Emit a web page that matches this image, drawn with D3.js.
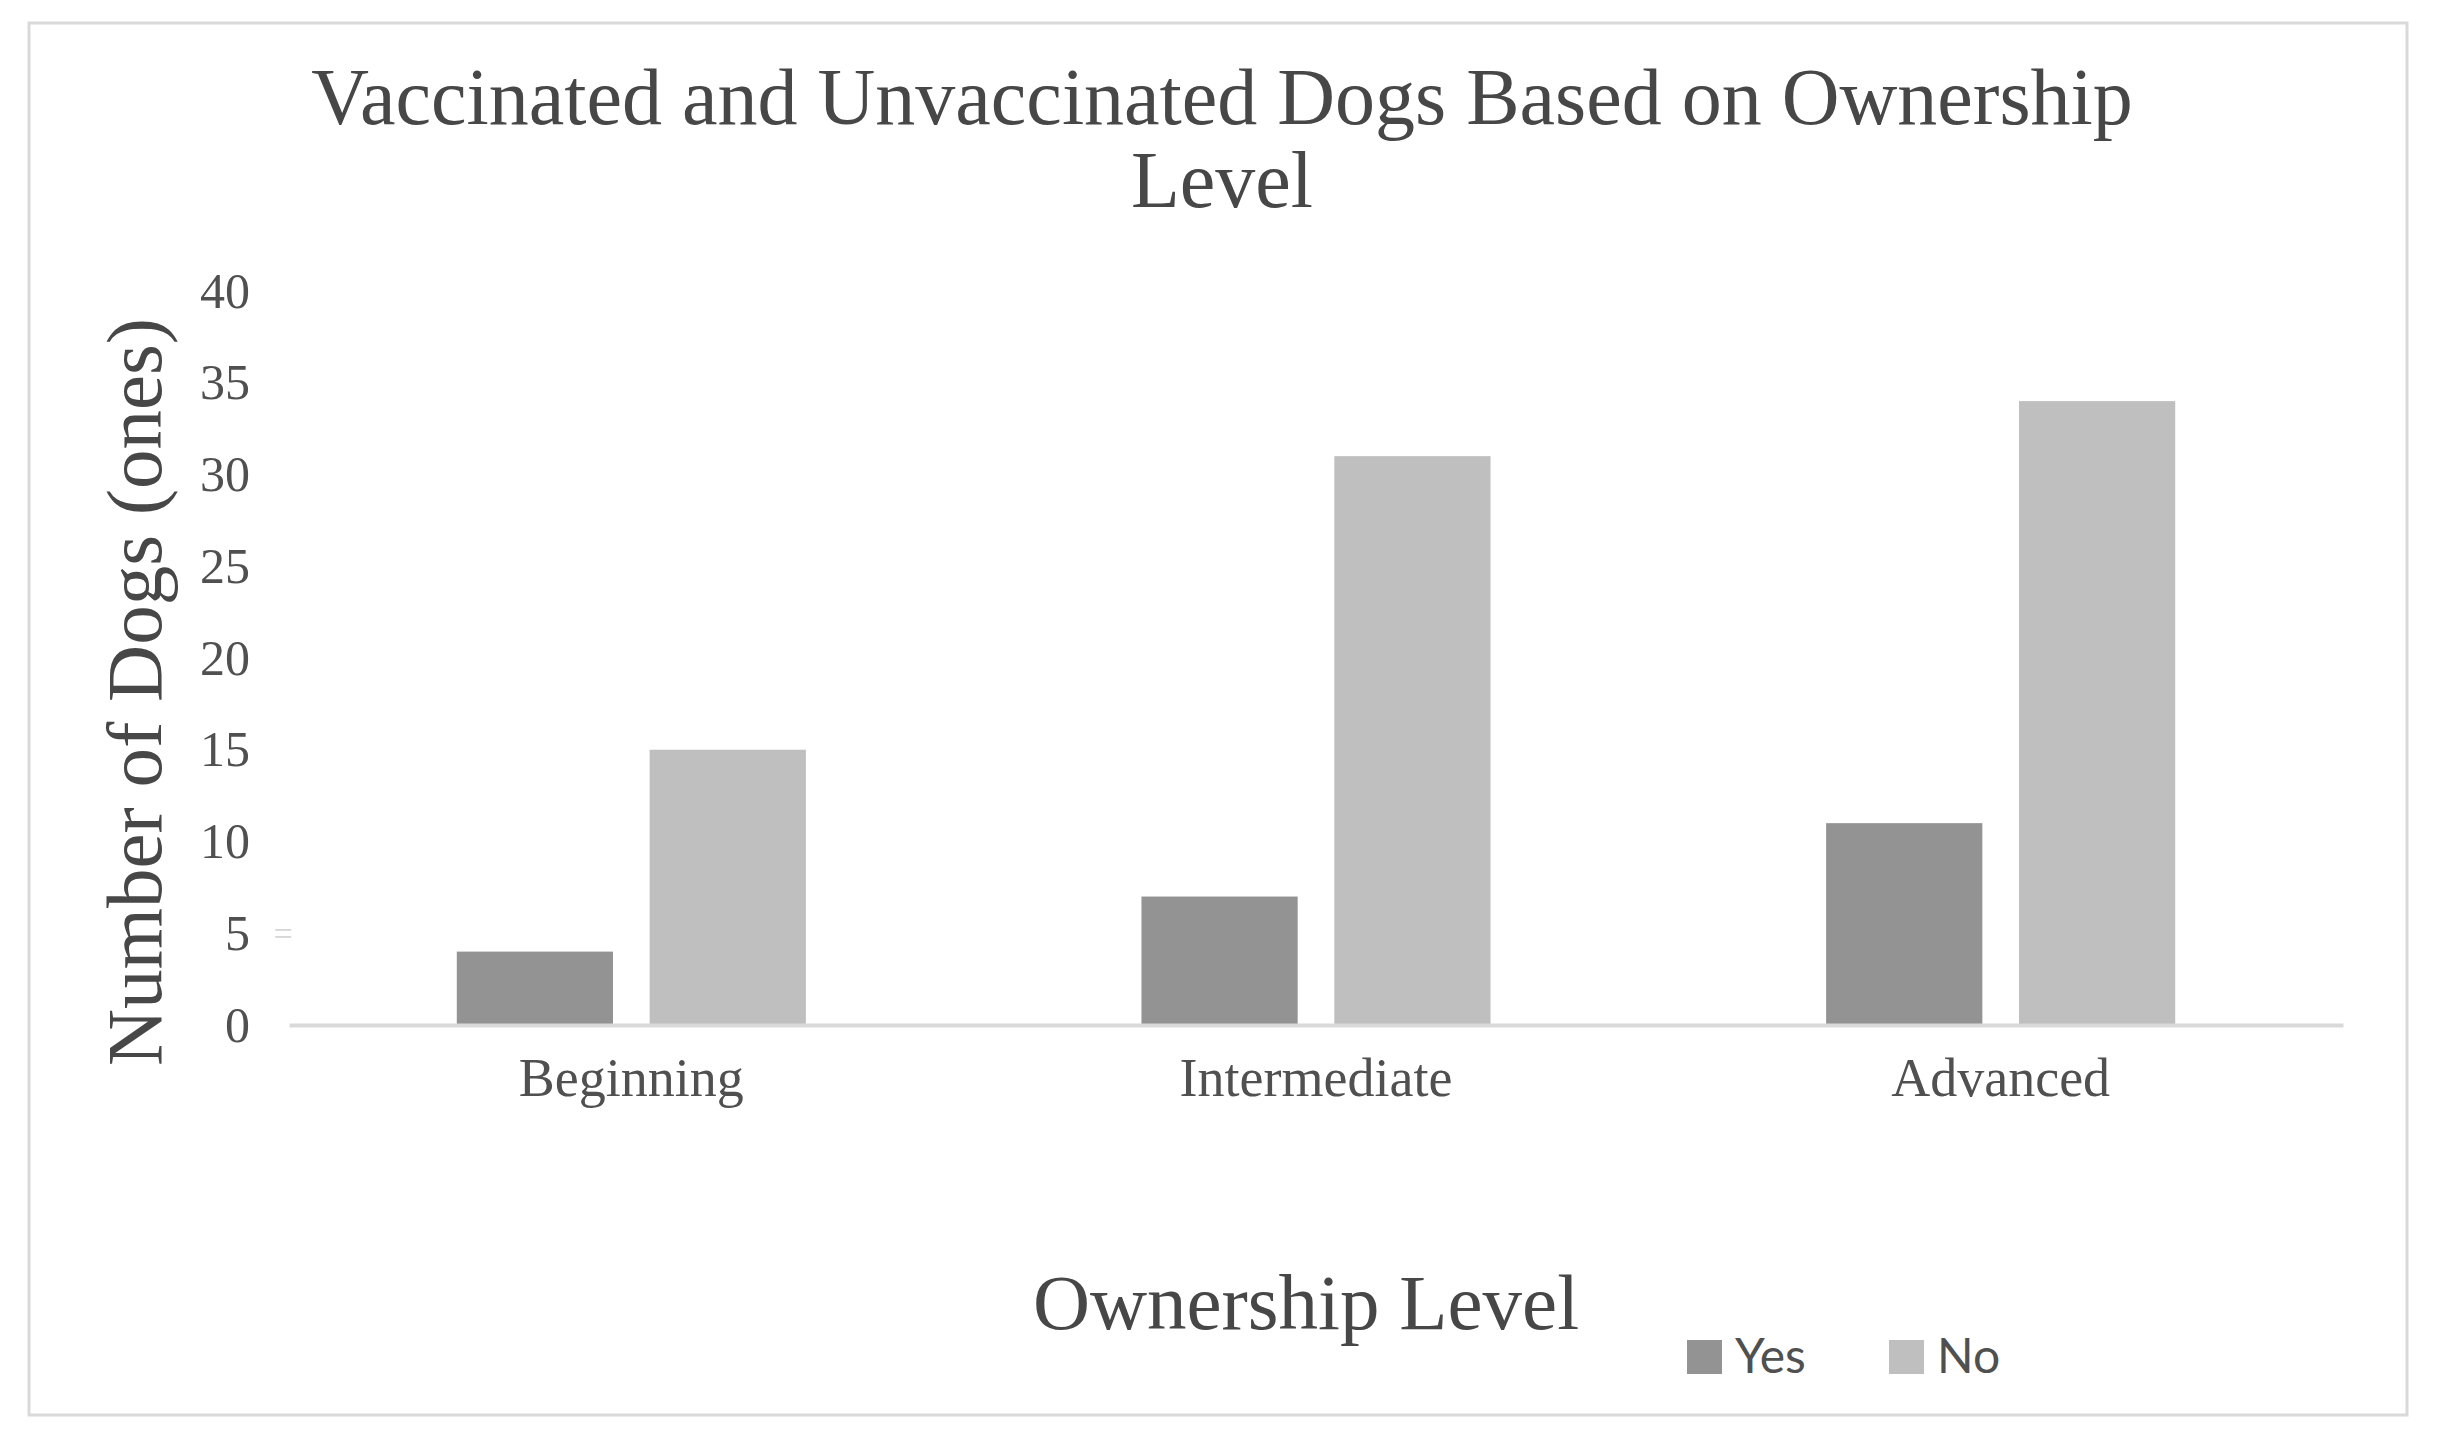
<!DOCTYPE html>
<html>
<head>
<meta charset="utf-8">
<script src="https://cdn.jsdelivr.net/npm/d3@7"></script>
<style>
	body { margin: 0; background: #FFFFFF; }
</style>
</head>
<body>
<div id="chart"></div>
<script>
// chart data
var categories = ["Beginning", "Intermediate", "Advanced"];
var series_names = ["Yes", "No"];
var yes_values = [4, 7, 11];
var no_values = [15, 31, 34];
var y_ticks = [0, 5, 10, 15, 20, 25, 30, 35, 40];
var series_colors = ["#939393", "#BFBFBF"];

var w = 2438,
	h = 1446,
	plot = {left: 289, right: 2343, top: 291, bottom: 1025};

var svg = d3.select("#chart")
	.append("svg")
	.attr("width", w)
	.attr("height", h);

// outer frame
svg.append("rect")
	.attr("x", 29)
	.attr("y", 23)
	.attr("width", 2378)
	.attr("height", 1392)
	.attr("fill", "#FFFFFF")
	.attr("stroke", "#D9D9D9")
	.attr("stroke-width", 3);

var x0 = d3.scaleBand()
	.domain(categories)
	.range([plot.left, plot.right]);

var x1 = d3.scaleBand()
	.domain(series_names)
	.range([0, x0.bandwidth()])
	.paddingInner(0.19)
	.paddingOuter(0.87);

var y = d3.scaleLinear()
	.domain([0, 40])
	.range([plot.bottom, plot.top]);

// y axis labels, no line
var yAxis = d3.axisLeft(y)
	.tickValues(y_ticks)
	.tickSize(0)
	.tickPadding(0);

var yg = svg.append("g")
	.attr("transform", "translate(250,0)")
	.call(yAxis);
yg.select(".domain").remove();
yg.selectAll("text")
	.attr("font-size", "50px")
	.attr("font-family", "Liberation Serif")
	.attr("fill", "#505050");

// stray mark next to the 5 label
svg.append("text")
	.text("=")
	.attr("x", 283)
	.attr("y", y(5) + 12)
	.attr("font-size", "34px")
	.attr("font-family", "Liberation Serif")
	.attr("text-anchor", "middle")
	.attr("fill", "#D6D6D6");

// bars
var rows = categories.map(function(c, i){
	return {cat: c, vals: [yes_values[i], no_values[i]]};
});

svg.append("g")
	.selectAll("g")
	.data(rows)
	.enter()
	.append("g")
	.attr("transform", function(d){
		return "translate(" + x0(d.cat) + ",0)";
	})
	.selectAll("rect")
	.data(function(d){
		return d.vals.map(function(v, j){ return {name: series_names[j], value: v, idx: j}; });
	})
	.enter()
	.append("rect")
	.attr("x", function(d){
		return x1(d.name);
	})
	.attr("y", function(d){
		return y(d.value);
	})
	.attr("width", x1.bandwidth())
	.attr("height", function(d){
		return y(0) - y(d.value);
	})
	.attr("fill", function(d){
		return series_colors[d.idx];
	});

// x axis
var xAxis = d3.axisBottom(x0)
	.tickSize(0)
	.tickPadding(0);

var xg = svg.append("g")
	.attr("transform", "translate(0," + y(0) + ")")
	.call(xAxis);
xg.select(".domain")
	.attr("stroke", "#D9D9D9")
	.attr("stroke-width", 4);
xg.selectAll("text")
	.attr("dy", null)
	.attr("y", 71)
	.attr("font-size", "54px")
	.attr("font-family", "Liberation Serif")
	.attr("fill", "#505050");

// titles
svg.append("g")
	.selectAll("text")
	.data(["Vaccinated and Unvaccinated Dogs Based on Ownership", "Level"])
	.enter()
	.append("text")
	.text(function(d){
		return d;
	})
	.attr("x", 1222)
	.attr("y", function(d, i){
		return 124 + i * 83;
	})
	.attr("font-size", "80px")
	.attr("font-family", "Liberation Serif")
	.attr("text-anchor", "middle")
	.attr("fill", "#474747");

svg.append("text")
	.text("Number of Dogs (ones)")
	.attr("transform", "translate(161,692) rotate(-90)")
	.attr("font-size", "79px")
	.attr("font-family", "Liberation Serif")
	.attr("text-anchor", "middle")
	.attr("fill", "#474747");

svg.append("text")
	.text("Ownership Level")
	.attr("x", 1306)
	.attr("y", 1329)
	.attr("font-size", "79px")
	.attr("font-family", "Liberation Serif")
	.attr("text-anchor", "middle")
	.attr("fill", "#474747");

// legend
var legend = svg.append("g")
	.selectAll("g")
	.data(series_names)
	.enter()
	.append("g")
	.attr("transform", function(d, i){
		return "translate(" + (1687 + i * 202) + ",1340)";
	});

legend.append("rect")
	.attr("width", 35)
	.attr("height", 34)
	.attr("fill", function(d, i){
		return series_colors[i];
	});

legend.append("text")
	.text(function(d){
		return d;
	})
	.attr("x", 48)
	.attr("y", 33)
	.attr("font-size", "48px")
	.attr("font-family", "Lato")
	.attr("fill", "#505050");
</script>
</body>
</html>
